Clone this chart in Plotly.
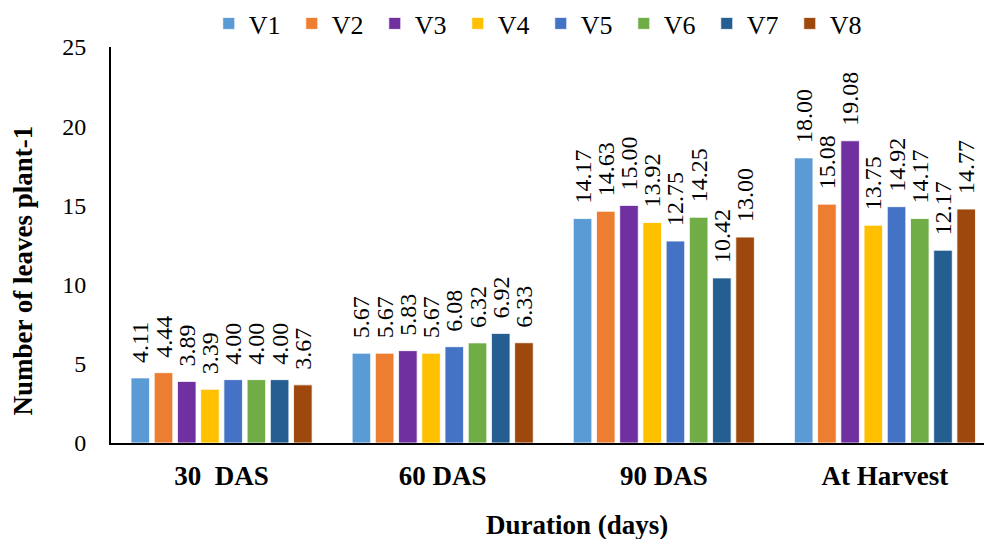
import plotly.graph_objects as go

categories = ["30\u00a0 DAS", "60 DAS", "90 DAS", "At Harvest"]
series_names = ["V1", "V2", "V3", "V4", "V5", "V6", "V7", "V8"]
V1 = [4.11, 5.67, 14.17, 18.00]
V2 = [4.44, 5.67, 14.63, 15.08]
V3 = [3.89, 5.83, 15.00, 19.08]
V4 = [3.39, 5.67, 13.92, 13.75]
V5 = [4.00, 6.08, 12.75, 14.92]
V6 = [4.00, 6.32, 14.25, 14.17]
V7 = [4.00, 6.92, 10.42, 12.17]
V8 = [3.67, 6.33, 13.00, 14.77]
series_values = [V1, V2, V3, V4, V5, V6, V7, V8]
colors = ["#5B9BD5", "#ED7D31", "#7030A0", "#FFC000", "#4472C4", "#70AD47", "#255E91", "#9E480E"]

SERIF = "Liberation Serif"

fig = go.Figure()
for name, vals, col in zip(series_names, series_values, colors):
    fig.add_trace(go.Bar(
        x=categories, y=vals, name=name,
        marker=dict(color=col, line=dict(color="rgba(255,255,255,0.8)", width=1)),
        text=[f"{v:.2f}" for v in vals],
        texttemplate="\u00a0\u00a0%{text}",
        textposition="outside", textangle=-90, constraintext="none", cliponaxis=False,
        textfont=dict(family=SERIF, size=24, color="#000000"),
    ))

fig.update_layout(
    width=984, height=539,
    margin=dict(l=111, r=0, t=46, b=96),
    paper_bgcolor="white", plot_bgcolor="white",
    barmode="group", bargap=0.16, bargroupgap=0.2,
    font=dict(family=SERIF, color="#000000"),
    showlegend=True,
    legend=dict(orientation="h", x=0.112, xanchor="left", y=1.06, yanchor="middle",
                font=dict(family=SERIF, size=26), entrywidth=38, traceorder="normal"),
    xaxis=dict(range=[-0.5, 3.448], showline=True, linecolor="black", linewidth=2,
               showgrid=False, ticks="", ticklabelstandoff=8,
               tickfont=dict(family=SERIF, size=27, weight="bold")),
    yaxis=dict(range=[0, 25], dtick=5, showline=True, linecolor="black", linewidth=2,
               showgrid=False, zeroline=False, ticks="", ticklabelstandoff=18,
               tickfont=dict(family=SERIF, size=24)),
    annotations=[
        dict(text="<b>Number of leaves plant-1</b>", xref="paper", yref="paper",
             x=(23 - 111) / 873, y=(443 - 270) / 397, xanchor="center", yanchor="middle",
             textangle=-90, showarrow=False, font=dict(family=SERIF, size=27)),
        dict(text="<b>Duration (days)</b>", xref="paper", yref="paper",
             x=(577 - 111) / 873, y=(443 - 525) / 397, xanchor="center", yanchor="middle",
             showarrow=False, font=dict(family=SERIF, size=27)),
    ],
)

fig.write_html("out.html")
